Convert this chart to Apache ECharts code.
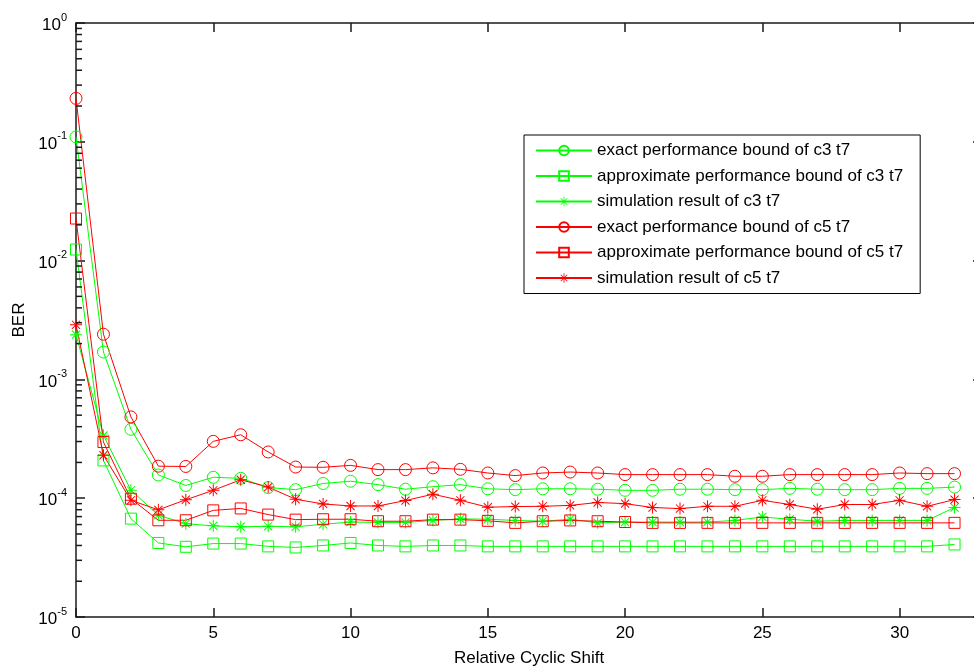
<!DOCTYPE html>
<html>
<head>
<meta charset="utf-8">
<title>BER vs Relative Cyclic Shift</title>
<script src="https://cdn.jsdelivr.net/npm/echarts@6/dist/echarts.min.js"></script>
<style>
  html, body { margin: 0; padding: 0; background: #fff; }
  #chart { width: 974px; height: 666px; }
</style>
</head>
<body>
<div id="chart"></div>
<script>
// Relative cyclic shift values 0..32
const shifts = [0, 1, 2, 3, 4, 5, 6, 7, 8, 9, 10, 11, 12, 13, 14, 15, 16,
  17, 18, 19, 20, 21, 22, 23, 24, 25, 26, 27, 28, 29, 30, 31, 32];

// BER curves
const exactC3 = [0.110, 1.70e-3, 3.8e-4, 1.57e-4, 1.28e-4, 1.50e-4, 1.47e-4, 1.23e-4, 1.18e-4,
  1.33e-4, 1.39e-4, 1.30e-4, 1.19e-4, 1.25e-4, 1.30e-4, 1.20e-4, 1.18e-4, 1.20e-4, 1.20e-4,
  1.19e-4, 1.165e-4, 1.165e-4, 1.19e-4, 1.19e-4, 1.18e-4, 1.18e-4, 1.21e-4, 1.19e-4, 1.18e-4,
  1.18e-4, 1.21e-4, 1.21e-4, 1.24e-4];
const approxC3 = [0.0124, 2.08e-4, 6.73e-5, 4.2e-5, 3.9e-5, 4.15e-5, 4.15e-5, 3.93e-5, 3.85e-5,
  4.0e-5, 4.2e-5, 4.0e-5, 3.93e-5, 4.0e-5, 4.0e-5, 3.93e-5, 3.93e-5, 3.93e-5, 3.93e-5,
  3.93e-5, 3.93e-5, 3.93e-5, 3.93e-5, 3.93e-5, 3.93e-5, 3.93e-5, 3.93e-5, 3.93e-5, 3.93e-5,
  3.93e-5, 3.93e-5, 3.93e-5, 4.08e-5];
const simC3 = [2.38e-3, 3.38e-4, 1.165e-4, 7.2e-5, 6.1e-5, 5.85e-5, 5.75e-5, 5.8e-5, 5.75e-5,
  6.03e-5, 6.3e-5, 6.25e-5, 6.25e-5, 6.5e-5, 6.7e-5, 6.65e-5, 6.5e-5, 6.4e-5, 6.65e-5,
  6.2e-5, 6.3e-5, 6.3e-5, 6.3e-5, 6.3e-5, 6.5e-5, 6.95e-5, 6.65e-5, 6.4e-5, 6.5e-5,
  6.5e-5, 6.5e-5, 6.5e-5, 8.35e-5];
const exactC5 = [0.232, 2.40e-3, 4.83e-4, 1.86e-4, 1.85e-4, 3.01e-4, 3.42e-4, 2.45e-4, 1.83e-4,
  1.82e-4, 1.89e-4, 1.74e-4, 1.74e-4, 1.80e-4, 1.75e-4, 1.63e-4, 1.55e-4, 1.63e-4, 1.66e-4,
  1.63e-4, 1.58e-4, 1.58e-4, 1.58e-4, 1.58e-4, 1.53e-4, 1.53e-4, 1.58e-4, 1.58e-4, 1.58e-4,
  1.58e-4, 1.63e-4, 1.61e-4, 1.61e-4];
const approxC5 = [0.0226, 2.97e-4, 9.9e-5, 6.52e-5, 6.52e-5, 7.9e-5, 8.2e-5, 7.28e-5, 6.6e-5,
  6.65e-5, 6.65e-5, 6.4e-5, 6.4e-5, 6.6e-5, 6.6e-5, 6.45e-5, 6.2e-5, 6.4e-5, 6.5e-5,
  6.4e-5, 6.3e-5, 6.2e-5, 6.2e-5, 6.2e-5, 6.2e-5, 6.2e-5, 6.2e-5, 6.2e-5, 6.2e-5,
  6.2e-5, 6.2e-5, 6.2e-5, 6.2e-5];
const simC5 = [2.88e-3, 2.30e-4, 9.6e-5, 7.98e-5, 9.7e-5, 1.165e-4, 1.43e-4, 1.24e-4, 9.8e-5,
  8.95e-5, 8.6e-5, 8.6e-5, 9.55e-5, 1.08e-4, 9.6e-5, 8.4e-5, 8.5e-5, 8.55e-5, 8.7e-5,
  9.2e-5, 9.0e-5, 8.35e-5, 8.18e-5, 8.55e-5, 8.55e-5, 9.6e-5, 8.85e-5, 8.07e-5, 8.85e-5,
  8.85e-5, 9.6e-5, 8.55e-5, 9.73e-5];

const seriesNames = [
  'exact performance bound of c3 t7',
  'approximate performance bound of c3 t7',
  'simulation result of c3 t7',
  'exact performance bound of c5 t7',
  'approximate performance bound of c5 t7',
  'simulation result of c5 t7'
];

const GREEN = '#00ff00';
const RED = '#ff0000';
const AXIS = '#1a1a1a';
const FONT = '"Liberation Sans", Arial, Helvetica, sans-serif';

// asterisk marker built from four thin bars
const ASTERISK = 'path://M5.5,0h1v12h-1z M0,5.5h12v1h-12z M1.6,2.3L2.3,1.6L10.4,9.7L9.7,10.4z M9.7,1.6L10.4,2.3L2.3,10.4L1.6,9.7z';

// minor tick positions of the logarithmic BER axis: 2..9 times each decade
const minorTickValues = [];
for (let k = -5; k < 0; k++) {
  for (let m = 2; m <= 9; m++) minorTickValues.push(m * Math.pow(10, k));
}

function pairs(values) {
  return shifts.map((x, i) => [x, values[i]]);
}

function curve(name, values, color, marker) {
  const hollow = marker !== 'star';
  return {
    name: name,
    type: 'line',
    data: pairs(values),
    symbol: marker === 'circle' ? 'circle' : marker === 'square' ? 'rect' : ASTERISK,
    symbolSize: marker === 'square' ? 11 : 12,
    showAllSymbol: true,
    lineStyle: { color: color, width: 1 },
    itemStyle: hollow
      ? { color: 'rgba(255,255,255,0)', borderColor: color, borderWidth: 1 }
      : { color: color, borderWidth: 0 },
    emphasis: { disabled: true },
    animation: false,
    z: 3
  };
}

const chart = echarts.init(document.getElementById('chart'), null, { renderer: 'canvas' });

const tickStyle = { color: AXIS, width: 1.5 };

chart.setOption({
  backgroundColor: '#ffffff',
  animation: false,
  textStyle: { fontFamily: FONT },
  grid: { left: 76, top: 23, width: 906, height: 594, containLabel: false, outerBoundsMode: 'none' },
  legend: {
    orient: 'vertical',
    left: 524,
    top: 135,
    padding: [7, 17, 7, 11],
    itemWidth: 56,
    itemHeight: 12,
    itemGap: 8.5,
    backgroundColor: '#ffffff',
    borderColor: '#000000',
    borderWidth: 1,
    borderRadius: 0,
    selectedMode: false,
    textStyle: { fontFamily: FONT, fontSize: 17, color: '#000', lineHeight: 17 },
    data: seriesNames
  },
  xAxis: [
    {
      type: 'value',
      min: 0,
      max: 33,
      interval: 5,
      position: 'bottom',
      name: 'Relative Cyclic Shift',
      nameLocation: 'middle',
      nameGap: 33,
      nameTextStyle: { fontFamily: FONT, fontSize: 17, color: '#000' },
      axisLine: { show: true, onZero: false, lineStyle: tickStyle },
      axisTick: { show: true, inside: true, length: 9, lineStyle: tickStyle },
      axisLabel: { show: true, margin: 8, fontFamily: FONT, fontSize: 17, color: '#000', showMaxLabel: false },
      splitLine: { show: false }
    },
    {
      type: 'value',
      min: 0,
      max: 33,
      interval: 5,
      position: 'top',
      axisLine: { show: true, onZero: false, lineStyle: tickStyle },
      axisTick: { show: true, inside: true, length: 9, lineStyle: tickStyle },
      axisLabel: { show: false },
      splitLine: { show: false }
    }
  ],
  yAxis: [
    {
      type: 'log',
      logBase: 10,
      min: 1e-5,
      max: 1,
      position: 'left',
      name: 'BER',
      nameLocation: 'middle',
      nameGap: 48,
      nameTextStyle: { fontFamily: FONT, fontSize: 17, color: '#000' },
      axisLine: { show: true, onZero: false, lineStyle: tickStyle },
      axisTick: { show: true, inside: true, length: 9, lineStyle: tickStyle },
      axisLabel: {
        show: true,
        margin: 9,
        formatter: function (v) {
          const e = Math.round(Math.log10(v));
          return '{b|10}{s|' + e + '}';
        },
        rich: {
          b: { fontFamily: FONT, fontSize: 17, color: '#000', lineHeight: 22, verticalAlign: 'bottom' },
          s: { fontFamily: FONT, fontSize: 11, color: '#000', verticalAlign: 'top' }
        }
      },
      splitLine: { show: false }
    },
    {
      type: 'log',
      logBase: 10,
      min: 1e-5,
      max: 1,
      position: 'right',
      axisLine: { show: true, onZero: false, lineStyle: tickStyle },
      axisTick: { show: true, inside: true, length: 9, lineStyle: tickStyle },
      axisLabel: { show: false },
      splitLine: { show: false }
    }
  ],
  series: [
    curve(seriesNames[0], exactC3, GREEN, 'circle'),
    curve(seriesNames[1], approxC3, GREEN, 'square'),
    curve(seriesNames[2], simC3, GREEN, 'star'),
    curve(seriesNames[3], exactC5, RED, 'circle'),
    curve(seriesNames[4], approxC5, RED, 'square'),
    curve(seriesNames[5], simC5, RED, 'star')
  ]
});

// short inward minor ticks on the left BER axis, placed through the axis scale
const axisX = chart.convertToPixel({ xAxisIndex: 0 }, 0);
const minorTicks = minorTickValues.map(function (v) {
  const y = chart.convertToPixel({ yAxisIndex: 0 }, v);
  return {
    type: 'line',
    silent: true,
    z: 10,
    shape: { x1: axisX, y1: y, x2: axisX + 6, y2: y },
    style: { stroke: AXIS, lineWidth: 1.5 }
  };
});
chart.setOption({ graphic: minorTicks });
</script>
</body>
</html>
